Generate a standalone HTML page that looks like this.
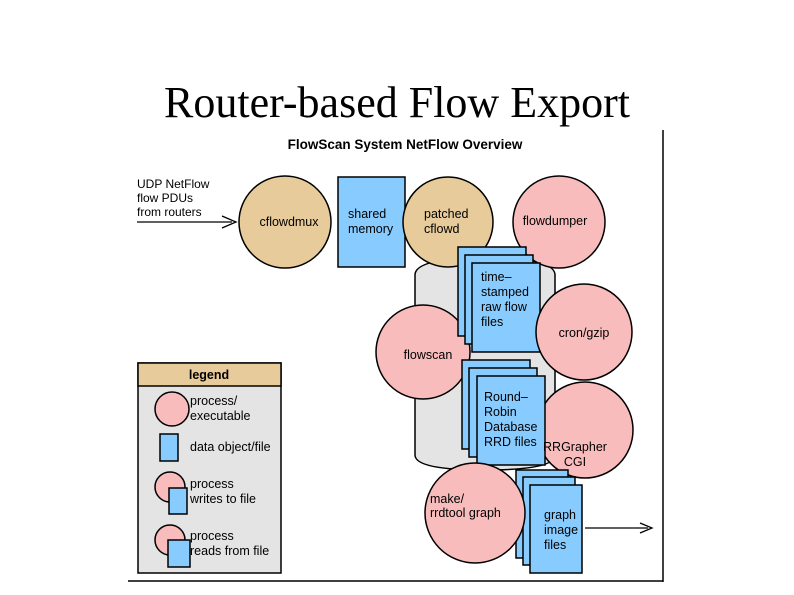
<!DOCTYPE html>
<html><head><style>body{margin:0;background:#fff}svg{display:block}</style></head><body>
<svg width="794" height="595" viewBox="0 0 794 595" xmlns="http://www.w3.org/2000/svg" font-family="Liberation Sans, sans-serif">
<text x="397" y="117" text-anchor="middle" font-family="Liberation Serif, serif" font-size="44">Router-based Flow Export</text>
<line x1="663" y1="130" x2="663" y2="582" stroke="#000" stroke-width="1.5"/>
<line x1="128" y1="581" x2="663" y2="581" stroke="#000" stroke-width="1.5"/>
<text x="405" y="149" text-anchor="middle" font-size="13.5" font-weight="bold">FlowScan System NetFlow Overview</text>
<g font-size="12" fill="#000">
<text x="137" y="188">UDP NetFlow</text><text x="137" y="202">flow PDUs</text><text x="137" y="216">from routers</text>
</g>
<line x1="137" y1="222" x2="232" y2="222" stroke="#000" stroke-width="1.3"/>
<path d="M222 216 L236 222 L222 228" fill="none" stroke="#000" stroke-width="1.3"/>
<g stroke="#000" stroke-width="1.5">
<path d="M415 275 Q415 258 485 258 Q555 258 555 275 L555 455 Q555 470 485 470 Q415 470 415 455 Z" fill="#e4e4e4"/>
<circle cx="285" cy="222" r="46" fill="#e8cb9a"/>
<rect x="338" y="177" width="67" height="90" fill="#88ccff"/>
<circle cx="448" cy="222" r="45" fill="#e8cb9a"/>
<circle cx="559" cy="222" r="46" fill="#f9bcbc"/>
<circle cx="423" cy="352" r="47" fill="#f9bcbc"/>
<rect x="458" y="247" width="68" height="89" fill="#88ccff"/>
<rect x="465" y="255" width="68" height="89" fill="#88ccff"/>
<rect x="472" y="263" width="68" height="89" fill="#88ccff"/>
<circle cx="584" cy="332" r="48" fill="#f9bcbc"/>
<rect x="462" y="360" width="68" height="89" fill="#88ccff"/>
<rect x="469" y="368" width="68" height="89" fill="#88ccff"/>
<circle cx="585" cy="430" r="48" fill="#f9bcbc"/>
<rect x="477" y="376" width="68" height="89" fill="#88ccff"/>
<rect x="516" y="470" width="52" height="88" fill="#88ccff"/>
<rect x="523" y="477" width="52" height="88" fill="#88ccff"/>
<rect x="530" y="485" width="52" height="88" fill="#88ccff"/>
<circle cx="475" cy="513" r="50" fill="#f9bcbc"/>
<rect x="138" y="363" width="143" height="210" fill="#e4e4e4"/>
<rect x="138" y="363" width="143" height="23" fill="#e8cb9a"/>
<circle cx="172" cy="409" r="17" fill="#f9bcbc"/>
<rect x="160" y="434" width="18" height="27" fill="#88ccff"/>
<circle cx="170" cy="487" r="15" fill="#f9bcbc"/>
<rect x="169" y="488" width="18" height="26" fill="#88ccff"/>
<circle cx="170" cy="540" r="15" fill="#f9bcbc"/>
<rect x="168" y="540" width="22" height="27" fill="#88ccff"/>
</g>
<line x1="585" y1="528" x2="648" y2="528" stroke="#000" stroke-width="1.3"/>
<path d="M640 523 L652 528 L640 533" fill="none" stroke="#000" stroke-width="1.3"/>
<g font-size="12.5" fill="#000">
<text x="289" y="226" text-anchor="middle">cflowdmux</text>
<text x="348" y="218">shared</text><text x="348" y="233">memory</text>
<text x="424" y="218">patched</text><text x="424" y="233">cflowd</text>
<text x="555" y="225" text-anchor="middle">flowdumper</text>
<text x="481" y="281">time–</text><text x="481" y="296">stamped</text><text x="481" y="311">raw flow</text><text x="481" y="326">files</text>
<text x="584" y="337" text-anchor="middle">cron/gzip</text>
<text x="428" y="359" text-anchor="middle">flowscan</text>
<text x="484" y="401">Round–</text><text x="484" y="416">Robin</text><text x="484" y="431">Database</text><text x="484" y="446">RRD files</text>
<text x="575" y="451" text-anchor="middle">RRGrapher</text><text x="575" y="466" text-anchor="middle">CGI</text>
<text x="430" y="503">make/</text><text x="430" y="517">rrdtool graph</text>
<text x="544" y="519">graph</text><text x="544" y="534">image</text><text x="544" y="549">files</text>
<text x="209" y="379" text-anchor="middle" font-weight="bold">legend</text>
<text x="190" y="405">process/</text><text x="190" y="420">executable</text>
<text x="190" y="451">data object/file</text>
<text x="190" y="488">process</text><text x="190" y="503">writes to file</text>
<text x="190" y="540">process</text><text x="190" y="555">reads from file</text>
</g>
</svg>
</body></html>
